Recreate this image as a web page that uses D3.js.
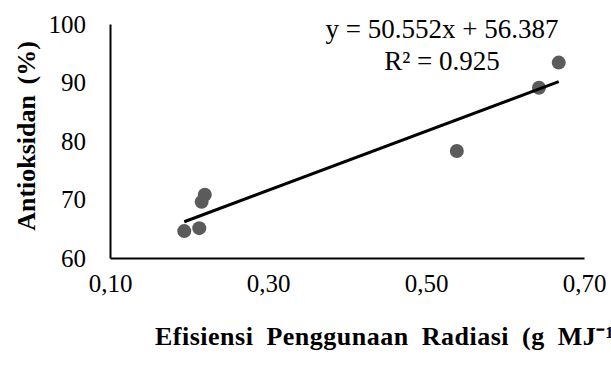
<!DOCTYPE html>
<html lang="id">

<head>
    <meta charset="UTF-8">
    <script src="https://cdn.jsdelivr.net/npm/d3@7"></script>
    <title>Chart</title>
</head>
<style>
    body {
        margin: 0;
        background: #fff;
    }

    text {
        font-family: "Liberation Serif", "Times New Roman", serif;
    }
</style>

<body>
</body>
<script>
    // data
    var ersValues = [0.194, 0.213, 0.216, 0.220, 0.539, 0.643, 0.668];
    var antiValues = [64.6, 65.1, 69.6, 70.8, 78.3, 89.1, 93.4];
    var xTicks = [0.10, 0.30, 0.50, 0.70];
    var yTicks = [60, 70, 80, 90, 100];
    var slope = 50.552, intercept = 56.387, r2 = 0.925;

    var width = 611, height = 372;
    var svg = d3.select("body").append("svg").attr("width", width).attr("height", height);

    var x = d3.scaleLinear().domain([0.1, 0.7]).range([110, 584]);
    var y = d3.scaleLinear().domain([60, 100]).range([258, 24]);

    var pts = ersValues.map(function(v, i) {
        return { x: v, y: antiValues[i] };
    });

    // axes
    var xAxis = svg.append("g").attr("transform", "translate(0," + y(60) + ")")
        .call(d3.axisBottom(x).tickValues(xTicks).tickSize(0).tickPadding(16)
            .tickFormat(function(d) { return d3.format(".2f")(d).replace(".", ","); }));
    var yAxis = svg.append("g").attr("transform", "translate(" + x(0.1) + ",0)")
        .call(d3.axisLeft(y).tickValues(yTicks).tickSize(0).tickPadding(24));

    [xAxis, yAxis].forEach(function(a) {
        a.attr("font-family", null);
        a.select(".domain").attr("stroke", "#000").attr("stroke-width", 2);
        a.selectAll("text").attr("fill", "#000").style("font-size", "25px");
    });
    xAxis.selectAll("text").attr("dy", "0.71em");

    // points
    svg.append("g").selectAll("circle")
        .data(pts)
        .enter().append("circle")
        .attr("cx", function(d) { return x(d.x); })
        .attr("cy", function(d) { return y(d.y); })
        .attr("r", 7)
        .attr("fill", "#5b5b5b");

    // trend line
    var xr = d3.extent(ersValues);
    svg.append("line")
        .attr("x1", x(xr[0])).attr("y1", y(slope * xr[0] + intercept))
        .attr("x2", x(xr[1])).attr("y2", y(slope * xr[1] + intercept))
        .attr("stroke", "#000").attr("stroke-width", 3);

    // equation
    var eq = svg.append("text").attr("text-anchor", "middle").style("font-size", "27px");
    eq.append("tspan").attr("x", 442).attr("y", 38)
        .text("y = " + slope + "x + " + intercept);
    eq.append("tspan").attr("x", 442).attr("y", 70)
        .text("R\u00b2 = " + r2);

    // axis titles
    svg.append("text")
        .attr("transform", "translate(35,136) rotate(-90)")
        .attr("text-anchor", "middle")
        .style("font-size", "26px").style("font-weight", "bold")
        .style("word-spacing", "4px")
        .text("Antioksidan (%)");

    svg.append("text")
        .attr("x", 155).attr("y", 345)
        .style("font-size", "26px").style("font-weight", "bold")
        .style("word-spacing", "6px").style("letter-spacing", "0.5px")
        .text("Efisiensi Penggunaan Radiasi (g MJ\u207b\u00b9)");
</script>

</html>
